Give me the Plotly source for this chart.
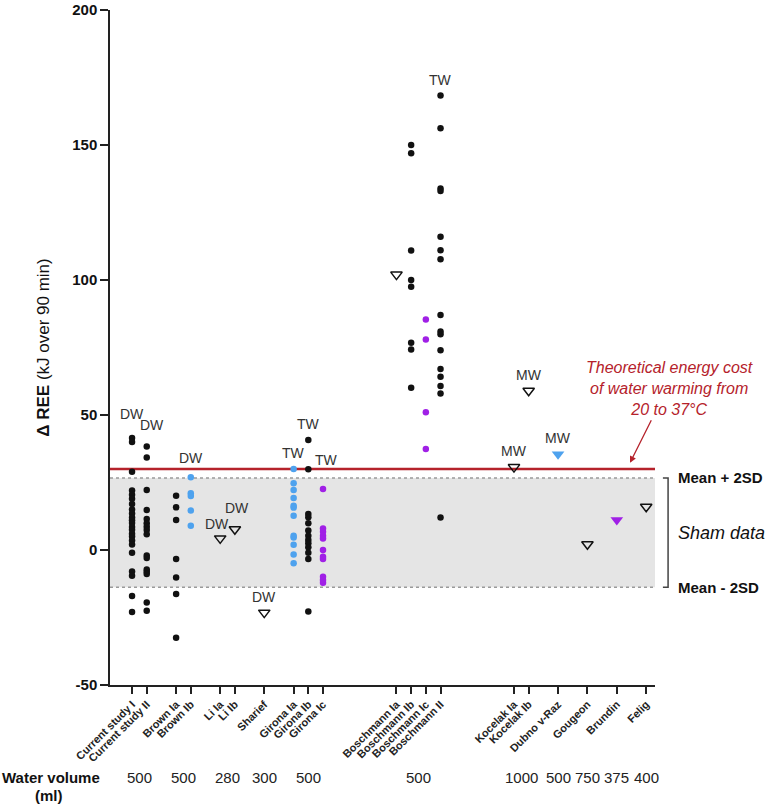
import plotly.graph_objects as go

# studies, grouped as on the x axis
groups = [
    ["Current study I", "Current study II"],
    ["Brown Ia", "Brown Ib"],
    ["Li Ia", "Li Ib"],
    ["Sharief"],
    ["Girona Ia", "Girona Ib", "Girona Ic"],
    ["Boschmann Ia", "Boschmann Ib", "Boschmann Ic", "Boschmann II"],
    ["Kocelak Ia", "Kocelak Ib"],
    ["Dubno v-Raz"],
    ["Gougeon"],
    ["Brundin"],
    ["Felig"],
]
water_volume = ["500", "500", "280", "300", "500", "500", "1000", "500", "750", "375", "400"]

y_ticks = [-50, 0, 50, 100, 150, 200]
y_tick_labels = ["-50", "0", "50", "100", "150", "200"]

# delta REE (kJ over 90 min)
ree = {
    "Current study I": [41.5, 40, 29, 22, 20.5, 19, 17, 15, 13.5, 12, 11, 10, 8.5, 7.5, 6, 5,
                        3.5, 2, -1, -8, -9.5, -17, -23],
    "Current study II": [38.3, 34.3, 22.2, 14.8, 11.5, 9.9, 8.6, 7.4, 5.8, -2, -3, -7.2, -8.1,
                         -8.9, -19.4, -22.5],
    "Brown Ia": [20.1, 15.8, 11.1, -3.3, -10.2, -16.3, -32.5],
    "Brown Ib": [26.9, 21, 20, 14.6, 9.0],
    "Li Ia": [4.3],
    "Li Ib": [7.7],
    "Sharief": [-23.2],
    "Girona Ia": [30, 24.7, 22.2, 19.3, 16.4, 15.7, 12.7, 5.3, 4.6, 1.9, -1.7, -4.9],
    "Girona Ib": [40.7, 29.9, 13.3, 12.1, 9.9, 7.2, 5.3, 3.7, 2.5, 1, -1, -3.3, -22.8],
    "Girona Ic": [22.6, 8, 6.8, 5.3, 4.3, 0, -2.5, -3.3, -9.9, -11.1, -12.1],
    "Boschmann Ia": [102],
    "Boschmann Ib": [150, 146.9, 110.9, 100, 97.5, 76.8, 74.3, 60.1],
    "Boschmann Ic": [85.4, 78, 51, 37.4],
    "Boschmann II": [168.3, 156.2, 133.9, 133, 116, 111, 107.7, 87, 80.9, 79.9, 74, 67, 64.2,
                     60.7, 58, 12],
    "Kocelak Ia": [30.7],
    "Kocelak Ib": [59],
    "Dubno v-Raz": [35.5],
    "Gougeon": [2.1],
    "Brundin": [11.1],
    "Felig": [16],
}

# water type label shown above a study
water_type = {
    "Current study I": "DW", "Current study II": "DW", "Brown Ib": "DW",
    "Li Ia": "DW", "Li Ib": "DW", "Sharief": "DW",
    "Girona Ia": "TW", "Girona Ib": "TW", "Girona Ic": "TW", "Boschmann II": "TW",
    "Kocelak Ia": "MW", "Kocelak Ib": "MW", "Dubno v-Raz": "MW",
}

sham_upper = 26.7
sham_lower = -13.8
warming_cost = 30

# ---- styling ----
FONT = "Arial, Liberation Sans, sans-serif"
BLACK = "#111111"
BLUE = "#4ea2ee"
PURPLE = "#a020e6"
RED = "#b5222b"

marker_style = {
    "Brown Ib": ("circle", BLUE), "Girona Ia": ("circle", BLUE),
    "Girona Ic": ("circle", PURPLE), "Boschmann Ic": ("circle", PURPLE),
    "Li Ia": ("triangle-down-open", BLACK), "Li Ib": ("triangle-down-open", BLACK),
    "Sharief": ("triangle-down-open", BLACK), "Boschmann Ia": ("triangle-down-open", BLACK),
    "Kocelak Ia": ("triangle-down-open", BLACK), "Kocelak Ib": ("triangle-down-open", BLACK),
    "Gougeon": ("triangle-down-open", BLACK), "Felig": ("triangle-down-open", BLACK),
    "Dubno v-Raz": ("triangle-down", BLUE), "Brundin": ("triangle-down", PURPLE),
}
# (xshift, yshift) in px for the DW/TW/MW labels
label_shift = {
    "Current study I": (0, 24), "Current study II": (5, 22), "Brown Ib": (0, 19),
    "Li Ia": (-3, 14), "Li Ib": (2, 21), "Girona Ic": (3, 29),
}

# x positions: one slot per study, gap of 2 between groups, 5 before the wide gaps
wide_gap_before = {"Boschmann Ia", "Kocelak Ia"}
xpos = {}
group_centre = []
x = 0
for gi, g in enumerate(groups):
    if gi > 0:
        x += 5 if g[0] in wide_gap_before else 2
    start = x
    for j, name in enumerate(g):
        if j > 0:
            x += 1
        xpos[name] = x
    group_centre.append((start + x) / 2)

fig = go.Figure()

for name, vals in ree.items():
    symbol, color = marker_style.get(name, ("circle", BLACK))
    if symbol == "circle":
        marker = dict(symbol=symbol, color=color, size=6.5)
    elif symbol.endswith("open"):
        marker = dict(symbol=symbol, color=BLACK, size=10, line=dict(color=BLACK, width=1.5))
    else:
        marker = dict(symbol=symbol, color=color, size=11, line=dict(width=0))
    fig.add_trace(go.Scatter(
        x=[xpos[name]] * len(vals), y=vals, mode="markers",
        marker=marker, showlegend=False, hoverinfo="y", name=name,
    ))

annotations = []
for name, label in water_type.items():
    xs, ys = label_shift.get(name, (0, 16))
    annotations.append(dict(
        x=xpos[name], y=max(ree[name]), xref="x", yref="y", text=label,
        showarrow=False, xshift=xs, yshift=ys, xanchor="center", yanchor="middle",
        font=dict(family=FONT, size=14, color="#333333"),
    ))

# water volume row
ROW_Y = -0.1363
for cx, vol in zip(group_centre, water_volume):
    annotations.append(dict(
        x=cx, y=ROW_Y, xref="x", yref="paper", text=vol, showarrow=False,
        xanchor="center", yanchor="middle", font=dict(family=FONT, size=15, color="#222222"),
    ))
annotations.append(dict(
    x=-0.202, y=ROW_Y, xref="paper", yref="paper", text="<b>Water volume</b>",
    showarrow=False, xanchor="left", yanchor="middle",
    font=dict(family=FONT, size=15, color="#111111"),
))
annotations.append(dict(
    x=-0.112, y=-0.163, xref="paper", yref="paper", text="<b>(ml)</b>",
    showarrow=False, xanchor="center", yanchor="middle",
    font=dict(family=FONT, size=15, color="#111111"),
))

# right hand labels
for yv, txt in [(sham_upper, "<b>Mean + 2SD</b>"), (sham_lower, "<b>Mean - 2SD</b>")]:
    annotations.append(dict(
        x=1.038, y=yv, xref="paper", yref="y", text=txt, showarrow=False,
        xanchor="left", yanchor="middle", font=dict(family=FONT, size=15, color="#111111"),
    ))
annotations.append(dict(
    x=1.038, y=(sham_upper + sham_lower) / 2, xref="paper", yref="y", text="<i>Sham data</i>",
    showarrow=False, xanchor="left", yanchor="middle",
    font=dict(family=FONT, size=18, color="#111111"),
))

# theoretical cost note + arrow
annotations.append(dict(
    x=1.0257, y=60, xref="paper", yref="y",
    text="<i>Theoretical energy cost<br>of water warming from<br>20 to 37°C</i>",
    showarrow=False, align="center", xanchor="center", yanchor="middle",
    font=dict(family=FONT, size=16, color=RED),
))
annotations.append(dict(
    x=33.9, y=32.3, xref="x", yref="y", text="", showarrow=True,
    ax=22, ay=-44, arrowhead=2, arrowsize=1, arrowwidth=1.3, arrowcolor=RED,
))

shapes = [
    dict(type="rect", xref="paper", yref="y", x0=0, x1=1, y0=sham_lower, y1=sham_upper,
         fillcolor="#e5e5e5", line=dict(width=0), layer="below"),
    dict(type="line", xref="paper", yref="y", x0=0, x1=1, y0=sham_upper, y1=sham_upper,
         line=dict(color="#9a9a9a", width=1.5, dash="dot"), layer="below"),
    dict(type="line", xref="paper", yref="y", x0=0, x1=1, y0=sham_lower, y1=sham_lower,
         line=dict(color="#9a9a9a", width=1.5, dash="dot"), layer="below"),
    dict(type="line", xref="paper", yref="y", x0=0, x1=1, y0=warming_cost, y1=warming_cost,
         line=dict(color=RED, width=2.5), layer="below"),
    # bracket
    dict(type="path", xref="paper", yref="y",
         path=f"M 1.0145 {sham_upper} L 1.024 {sham_upper} L 1.024 {sham_lower} L 1.0145 {sham_lower}",
         line=dict(color="#444444", width=1.5)),
]

order = [n for g in groups for n in g]

fig.update_layout(
    width=772, height=805,
    margin=dict(l=110, r=117, t=10, b=120),
    plot_bgcolor="white", paper_bgcolor="white",
    font=dict(family=FONT, color="#111111"),
    showlegend=False,
    annotations=annotations,
    shapes=shapes,
    xaxis=dict(
        range=[-1.5, 35.6], tickmode="array",
        tickvals=[xpos[n] for n in order], ticktext=order,
        tickangle=-45, tickfont=dict(family=FONT, size=11, weight="bold", color="#222222"),
        ticks="outside", ticklen=7, tickwidth=1.5, tickcolor="#222222",
        showline=True, linecolor="#222222", linewidth=1.5,
        showgrid=False, zeroline=False, automargin=False,
    ),
    yaxis=dict(
        range=[-50, 200], tickmode="array", tickvals=y_ticks, ticktext=y_tick_labels,
        tickfont=dict(family=FONT, size=15, weight="bold", color="#111111"),
        ticks="outside", ticklen=8, tickwidth=1.5, tickcolor="#222222",
        showline=True, linecolor="#222222", linewidth=1.5,
        showgrid=False, zeroline=False, automargin=False, ticklabeloverflow="allow",
        title=dict(text="<b>Δ REE</b> (kJ over 90 min)", standoff=18,
                   font=dict(family=FONT, size=17, color="#111111")),
    ),
)

# drop the default 8px page margin so the figure sits at the window's corner
fig.write_html("out.html", config={"displayModeBar": False},
               post_script="document.body.style.margin = '0';")
